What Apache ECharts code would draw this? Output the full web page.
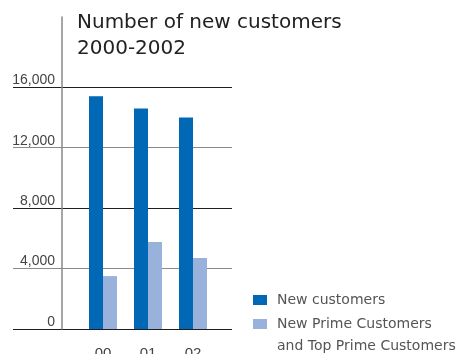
<!DOCTYPE html>
<html>
<head>
<meta charset="utf-8">
<script src="https://cdn.jsdelivr.net/npm/echarts@6/dist/echarts.min.js"></script>
<style>
  html, body { margin: 0; padding: 0; background: #fff; }
  #chart { width: 461px; height: 354px; }
</style>
</head>
<body>
<div id="chart"></div>
<script>
// chart data
var years = ['00', '01', '02'];
var newCustomers = [15400, 14600, 14000];
var primeCustomers = [3500, 5750, 4700];
var seriesNames = ['New customers', 'New Prime Customers\nand Top Prime Customers'];
var yTicks = [0, 4000, 8000, 12000, 16000];

var yMax = 20650; // axis line runs above the last labelled tick
var dark = '#1e1e1e', grey = '#8a8a8a', none = 'rgba(0,0,0,0)';

var option = {
  animation: false,
  title: {
    text: 'Number of new customers\n2000-2002',
    left: 77,
    top: 10,
    padding: 0,
    textStyle: {
      fontFamily: 'DejaVu Sans',
      fontSize: 20,
      fontWeight: 'normal',
      color: '#222',
      lineHeight: 26
    }
  },
  legend: {
    orient: 'vertical',
    left: 253,
    top: 289,
    height: 200,
    padding: 0,
    itemGap: -20,
    itemWidth: 14,
    itemHeight: 10,
    icon: 'rect',
    data: seriesNames,
    formatter: function (name) {
      // keep the first line level with the swatch
      return name.indexOf('\n') >= 0 ? '\n' + name : name;
    },
    textStyle: {
      fontFamily: 'DejaVu Sans',
      fontSize: 14,
      color: '#555',
      lineHeight: 22,
      padding: [0, 0, 0, 5]
    }
  },
  grid: [
    { left: 13, right: 229, top: 17, bottom: 25, outerBoundsMode: 'none' },
    { left: 80.5, width: 135, top: 17, bottom: 25, outerBoundsMode: 'none' }
  ],
  xAxis: [
    { gridIndex: 0, type: 'value', show: false, min: 0, max: 1 },
    {
      gridIndex: 1,
      type: 'category',
      data: years,
      axisLine: { show: false },
      axisTick: { show: false },
      axisLabel: {
        margin: 17,
        fontFamily: 'Liberation Sans',
        fontSize: 15,
        color: '#444'
      }
    }
  ],
  yAxis: [
    {
      gridIndex: 0,
      type: 'value',
      min: 0,
      max: yMax,
      interval: 4000,
      axisLine: { show: false },
      axisTick: { show: false },
      axisLabel: {
        inside: true,
        margin: 42,
        align: 'right',
        verticalAlign: 'bottom',
        fontFamily: 'Liberation Sans',
        fontSize: 14,
        color: '#444',
        formatter: function (v) {
          return yTicks.indexOf(v) >= 0 ? v.toLocaleString('en-US') : '';
        }
      },
      splitLine: {
        show: true,
        lineStyle: { width: 1, color: [dark, grey, dark, grey, dark, none, none] }
      }
    },
    {
      gridIndex: 1,
      type: 'value',
      min: 0,
      max: yMax,
      offset: 18.5,
      axisLine: { show: true, lineStyle: { color: '#888', width: 1.5 } },
      axisTick: { show: false },
      axisLabel: { show: false },
      splitLine: { show: false }
    }
  ],
  series: [
    {
      name: seriesNames[0],
      type: 'bar',
      xAxisIndex: 1,
      yAxisIndex: 1,
      data: newCustomers,
      barWidth: 14,
      barGap: '0%',
      itemStyle: { color: '#0068b4' }
    },
    {
      name: seriesNames[1],
      type: 'bar',
      xAxisIndex: 1,
      yAxisIndex: 1,
      data: primeCustomers,
      barWidth: 14,
      barGap: '0%',
      itemStyle: { color: '#98b2dc' }
    }
  ]
};

var myChart = echarts.init(document.getElementById('chart'));
myChart.setOption(option);
</script>
</body>
</html>
